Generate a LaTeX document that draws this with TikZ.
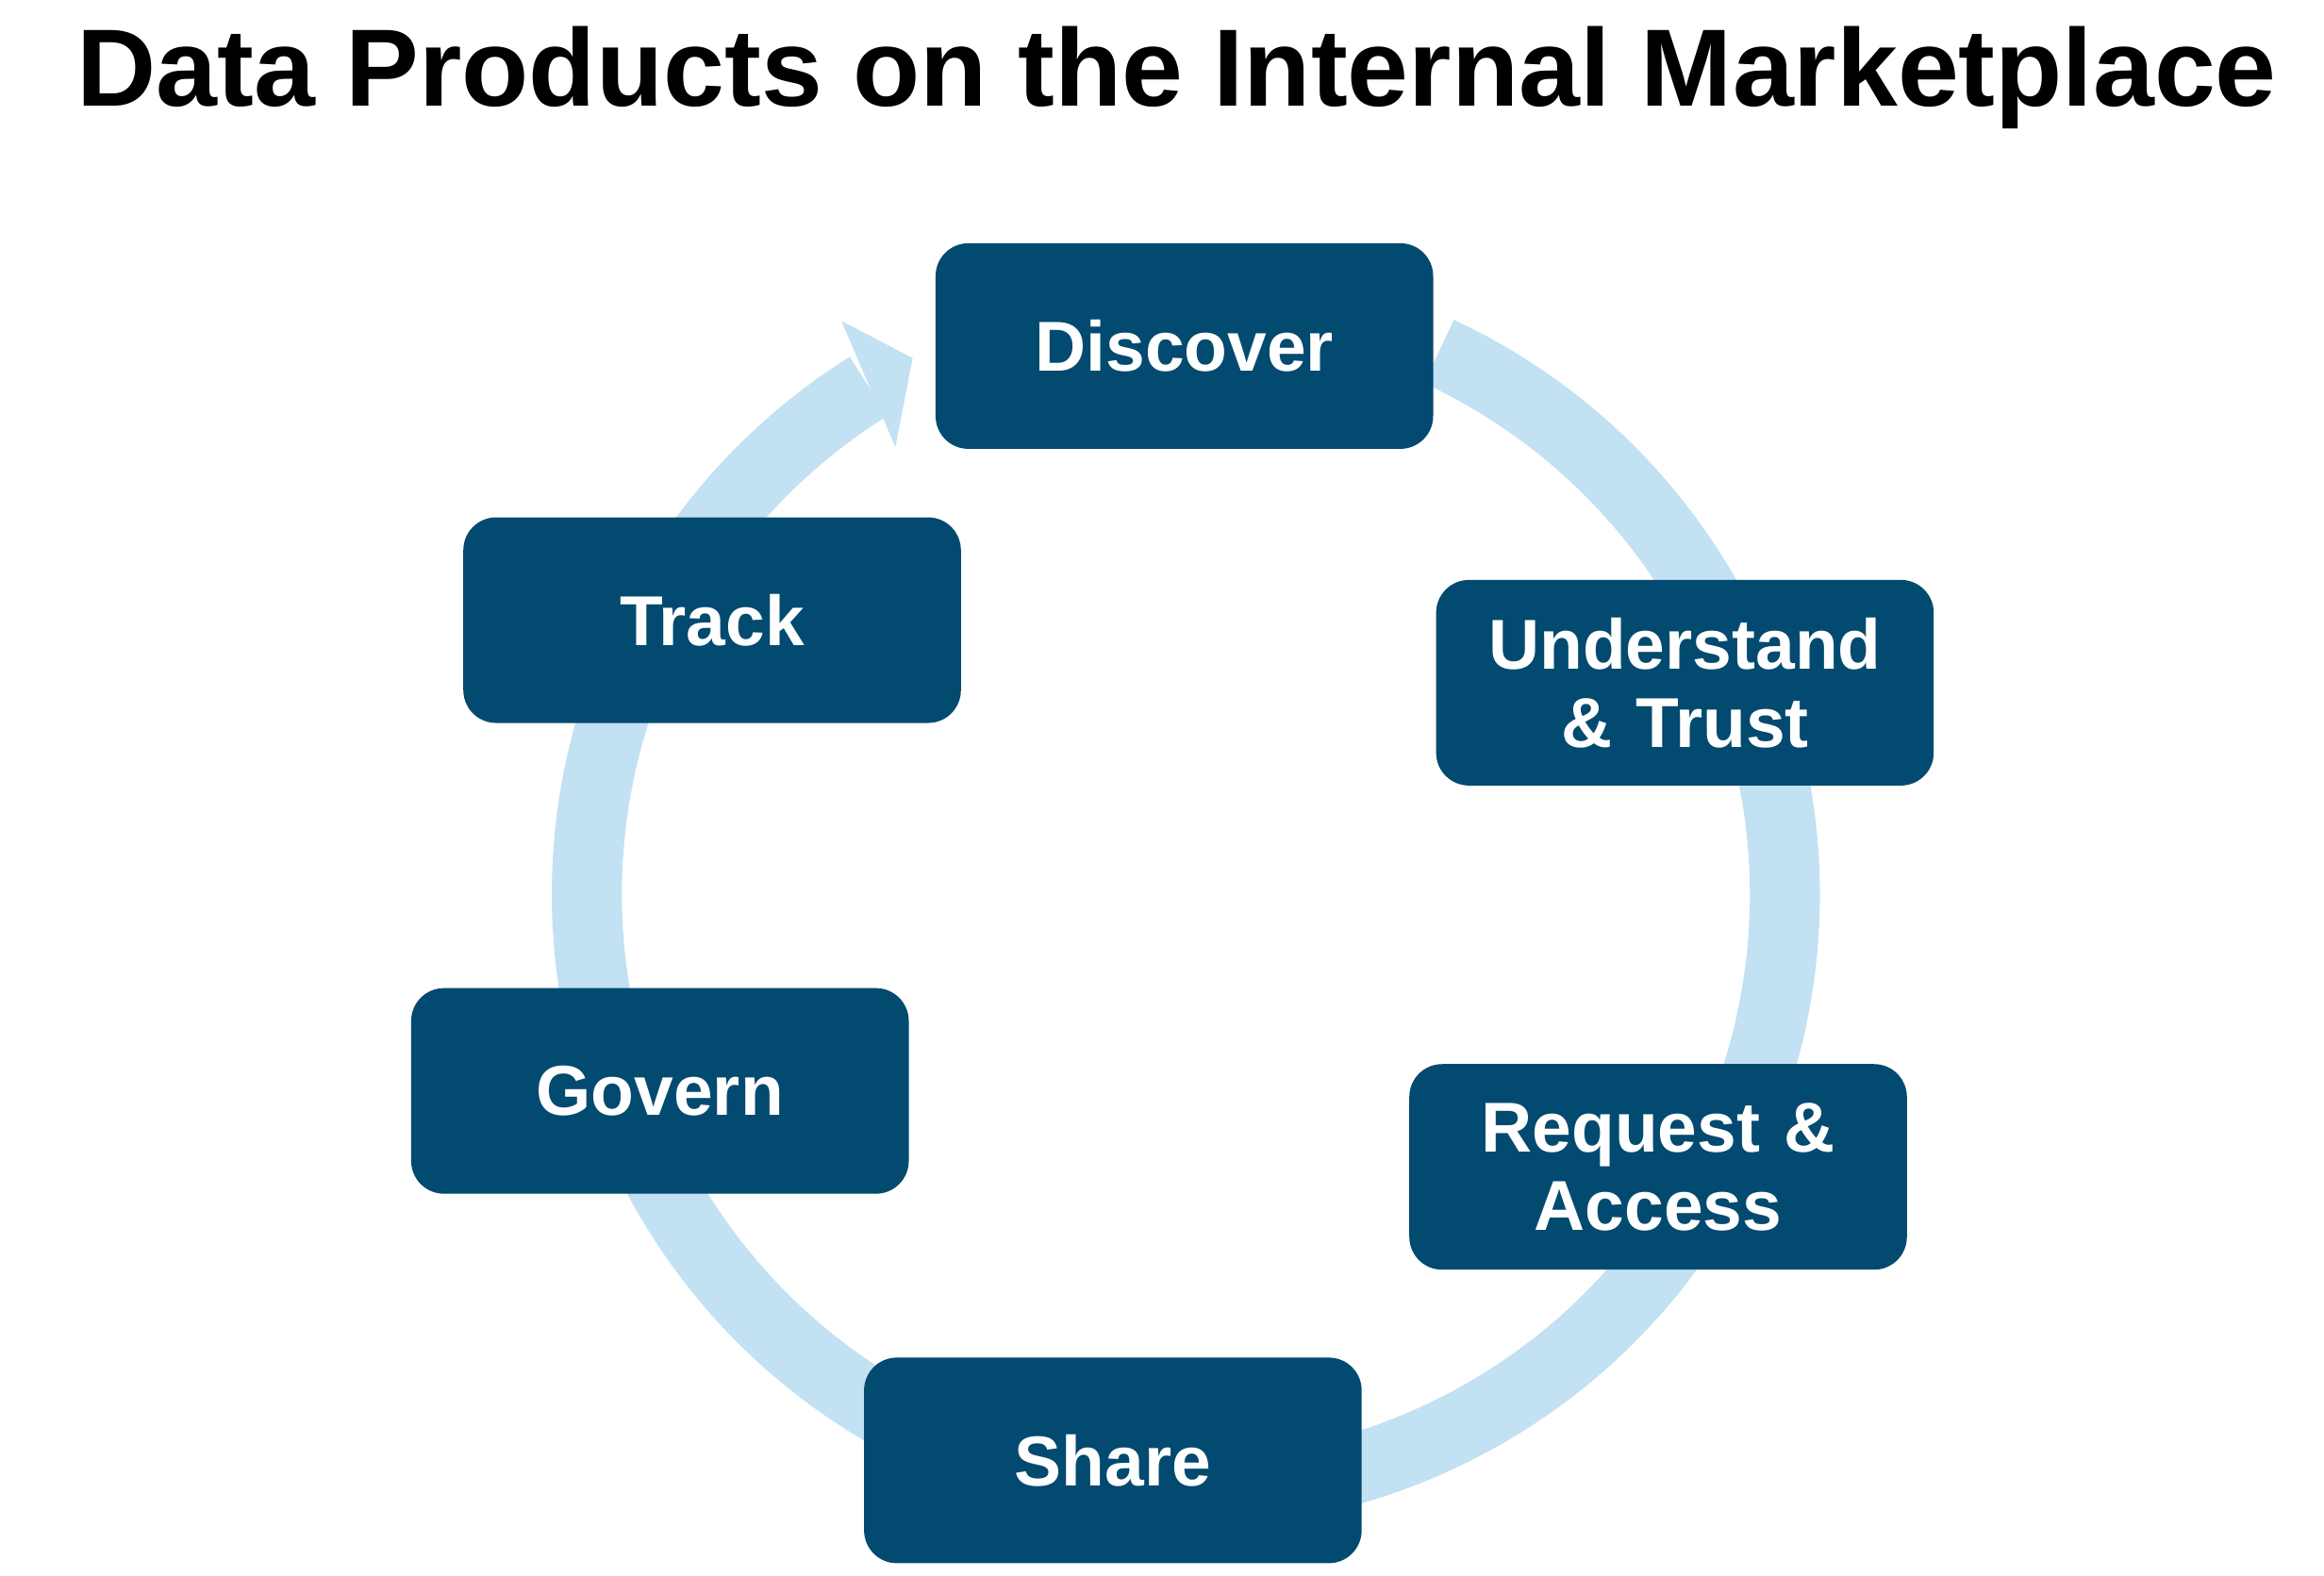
\documentclass[tikz,border=0pt]{standalone}
\usepackage{fontspec}
\setmainfont{Liberation Sans}
\usepackage{tikz}
\usetikzlibrary{positioning, calc}
\definecolor{boxblue}{HTML}{034A70}
\definecolor{ringblue}{HTML}{C2E1F3}
\tikzstyle{stage} = [rectangle, rounded corners=0.22cm, minimum width=3.34cm, minimum height=1.38cm, text width=3.2cm, align=center, fill=boxblue, text=white, font=\fontsize{13.5pt}{15pt}\selectfont\bfseries, inner sep=0pt]
\tikzstyle{ring} = [line width=0.47cm, draw=ringblue]

\begin{document}
\begin{tikzpicture}
        \useasboundingbox (0,0) rectangle (15.6,10.573);
        \coordinate (c) at (7.96,4.57);

        % cycle ring with arrow head
        \draw [ring] ($(c)+(65:4.02)$) arc (65:-238:4.02);
        \fill [ringblue] ($(c)+(121:4.49)$) -- ($(c)+(117:4.04)$) -- ($(c)+(123:3.58)$) -- cycle;

        \node (title) at (7.9,10.05) {\fontsize{21pt}{24pt}\selectfont\bfseries Data Products on the Internal Marketplace};

        \node (discover) [stage] at (7.95,8.25) {Discover};
        \node (understand) [stage] at (11.31,5.99) {Understand\\\& Trust};
        \node (request) [stage] at (11.13,2.74) {Request \&\\Access};
        \node (share) [stage] at (7.47,0.77) {Share};
        \node (govern) [stage] at (4.43,3.25) {Govern};
        \node (track) [stage] at (4.78,6.41) {Track};

        \end{tikzpicture}
\end{document}
